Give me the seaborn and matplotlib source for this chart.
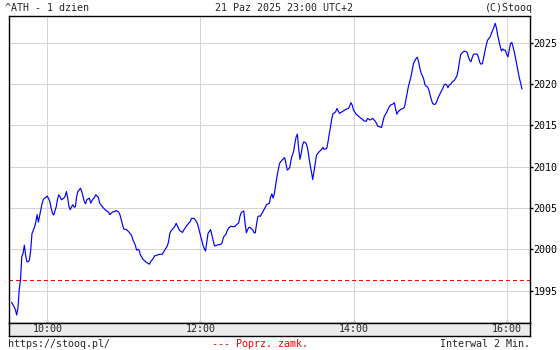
import matplotlib
matplotlib.use("Agg")
import matplotlib.pyplot as plt
import matplotlib.dates as mdates
import numpy as np
import pandas as pd
import seaborn as sns

# ---- data ----
session_date = "2025-12-21"
# minutes after 09:00
minutes = [32, 34, 35, 36, 37, 38, 39, 40, 41, 42, 43, 44, 45, 46, 47, 48, 49, 50, 51, 52, 53, 55, 56, 57, 58,
           60, 62, 63, 64, 65, 67, 68, 69, 70, 71, 73, 74, 75, 76, 77, 78, 79, 80, 81, 82, 83, 84, 86, 87, 88, 89,
           90, 91, 93, 94, 95, 97, 98, 100, 101, 103, 104, 106, 108, 109, 111, 113, 114, 116, 117, 118, 119,
           120, 122, 124, 126, 127, 129, 130, 131, 132, 133, 135, 137, 138, 140, 141, 143, 144, 146, 148, 150,
           152, 154, 155, 156, 157, 158, 160, 161, 163, 164, 166, 167, 169, 171, 172, 173, 175, 177, 178, 179,
           180, 181, 182, 183, 184, 185, 186, 187, 188, 189, 190, 191, 193, 194, 196, 197, 198, 200, 201, 202,
           204, 205, 207, 208, 210, 211, 212, 214, 215, 216, 217, 218, 219, 221, 222, 223, 224, 225, 226, 227,
           229, 231, 232, 234, 235, 236, 237, 238, 239, 240, 241, 242, 243, 244, 246, 247, 248, 249, 250, 251,
           252, 253, 254, 255, 256, 257, 258, 259, 260, 261, 262, 263, 264, 265, 266, 267, 268, 269, 270, 271,
           272, 273, 275, 276, 277, 279, 280, 281, 282, 283, 284, 285, 286, 287, 288, 289, 291, 293, 294, 296,
           297, 298, 299, 300, 302, 303, 305, 307, 308, 310, 311, 313, 315, 317, 318, 319, 321, 322, 323, 324,
           326, 328, 329, 331, 332, 333, 334, 335, 337, 339, 340, 341, 342, 343, 344, 345, 346, 347, 349, 350,
           351, 352, 353, 354, 355, 356, 357, 358, 359, 360, 361, 362, 363, 364, 365, 366, 368, 370, 371, 372,
           373, 374, 375, 376, 377, 379, 380, 381, 382, 383, 384, 386, 387, 389, 390, 391, 392, 393, 394, 396,
           397, 398, 399, 400, 401, 402, 403, 404, 405, 406, 407, 408, 409, 410, 411, 412, 413, 414, 415, 416,
           417, 418, 419, 420, 421, 422, 423, 424, 425, 426, 427, 428, 429, 430, 431, 432]
values = [1993.6, 1993.05, 1992.7, 1992.05, 1992.9, 1995.1, 1996.3, 1999.1, 1999.5, 2000.5, 1999.3, 1998.5,
          1998.5, 1998.7, 1999.9, 2001.9, 2002.3, 2002.7, 2003.3, 2004.2, 2003.3, 2004.8, 2005.6, 2006.05, 2006.2,
          2006.45, 2005.8, 2005.0, 2004.4, 2004.15, 2005.15, 2006.05, 2006.6, 2006.4, 2006.0, 2006.2, 2006.45,
          2007.0, 2006.2, 2005.15, 2004.8, 2005.15, 2005.4, 2005.1, 2005.15, 2006.4, 2007.0, 2007.4, 2007.0,
          2006.4, 2005.8, 2005.5, 2006.0, 2006.2, 2005.6, 2005.9, 2006.3, 2006.6, 2006.3, 2005.6, 2005.2, 2005.0,
          2004.7, 2004.5, 2004.2, 2004.5, 2004.6, 2004.7, 2004.5, 2004.15, 2003.55, 2002.95,
          2002.45, 2002.4, 2002.1, 2001.7, 2001.2, 2000.5, 1999.9, 2000.0, 1999.9, 1999.3, 1998.8, 1998.5, 1998.4,
          1998.2, 1998.5, 1998.9, 1999.2, 1999.3, 1999.4, 1999.4,
          1999.9, 2000.4, 2000.9, 2001.9, 2002.25, 2002.4, 2002.8, 2003.15, 2002.5, 2002.25, 2002.05, 2002.35,
          2002.8, 2003.2, 2003.35, 2003.75, 2003.75, 2003.35, 2002.95, 2002.35,
          2001.75, 2001.15, 2000.5, 2000.1, 1999.8, 2000.9, 2001.95, 2002.15, 2002.4, 2001.75, 2001.15, 2000.4,
          2000.5, 2000.55, 2000.6, 2000.8, 2001.45, 2001.85, 2002.25, 2002.55,
          2002.8, 2002.75, 2002.75, 2002.95, 2003.2, 2004.0, 2004.45, 2004.65, 2003.15, 2002.0, 2002.4, 2002.65,
          2002.65, 2002.35, 2002.0, 2002.0, 2003.05, 2003.95, 2004.05, 2004.0,
          2004.55, 2005.15, 2005.45, 2005.55, 2006.35, 2006.7, 2006.2, 2006.8, 2007.8, 2008.8, 2009.6, 2010.4,
          2010.6, 2010.8, 2011.1, 2010.4, 2009.6, 2009.7, 2009.9, 2010.8,
          2011.4, 2011.8, 2012.8, 2013.6, 2013.95, 2012.2, 2010.9, 2011.6, 2012.6, 2013.0, 2012.95, 2012.75,
          2012.2, 2011.2, 2010.2, 2009.4, 2008.45, 2009.4, 2010.4, 2011.4,
          2011.6, 2011.8, 2012.1, 2012.35, 2012.1, 2012.2, 2013.0, 2014.0, 2014.85, 2015.85, 2016.45, 2016.5,
          2016.65, 2017.05, 2016.75, 2016.45, 2016.65, 2016.85, 2016.95, 2017.05,
          2017.35, 2017.75, 2017.45, 2016.85, 2016.35, 2016.25, 2015.95, 2015.75, 2015.55, 2015.5, 2015.85,
          2015.65, 2015.85, 2015.5, 2015.25, 2014.9, 2014.8, 2014.75, 2015.45, 2016.05,
          2016.6, 2017.25, 2017.45, 2017.6, 2017.75, 2016.95, 2016.35, 2016.65, 2016.95, 2017.05, 2017.25, 2018.05,
          2018.9, 2019.7, 2020.3, 2020.9, 2021.7, 2022.5, 2023.1, 2023.25,
          2022.7, 2021.9, 2021.3, 2021.0, 2020.6, 2019.9, 2019.75, 2019.65, 2019.3, 2018.7, 2018.1, 2017.65,
          2017.55, 2017.55, 2017.8, 2018.25, 2018.9, 2019.5, 2019.9, 2020.0,
          2019.9, 2019.55, 2019.9, 2019.95, 2020.2, 2020.45, 2020.7, 2021.0, 2021.7, 2022.7, 2023.6, 2023.9,
          2024.0, 2023.85, 2023.3, 2022.9, 2022.7, 2023.2, 2023.6, 2023.65,
          2023.6, 2023.2, 2022.6, 2022.4, 2022.5, 2023.2, 2024.0, 2024.7, 2025.3, 2025.5, 2025.7, 2026.1, 2026.5,
          2026.9, 2027.35, 2026.8, 2025.9, 2025.2, 2024.5, 2024.0,
          2024.25, 2024.1, 2024.1, 2023.6, 2023.3, 2024.1, 2024.9, 2025.05, 2024.5, 2023.9, 2023.1, 2022.3,
          2021.5, 2020.7, 2020.1, 2019.4]
prev_close = 1996.3
y_ticks = [1995, 2000, 2005, 2010, 2015, 2020, 2025]
major_hours = ["10:00", "12:00", "14:00", "16:00"]
minor_hours = ["11:00", "13:00", "15:00"]
x_range = ["09:29:36", "16:18:18"]
y_range = [1991.05, 2028.3]

title_left = "^ATH - 1 dzien"
title_mid = "21 Paz 2025 23:00 UTC+2"
title_right = "(C)Stooq"
foot_left = "https://stooq.pl/"
foot_mid = "--- Poprz. zamk."
foot_right = "Interwal 2 Min."

# ---- build ----
base = pd.Timestamp(f"{session_date} 09:00")
df = pd.DataFrame({"time": base + pd.to_timedelta(minutes, unit="min"), "value": values})

def ts(s):
    return mdates.date2num(pd.Timestamp(f"{session_date} {s}"))

sns.set_style("white")
plt.rcParams["font.family"] = ["DejaVu Sans Mono"]
FS = 7.2
PX = 0.72  # one pixel in points at dpi 100

W, H = 560, 350
fig = plt.figure(figsize=(W / 100, H / 100), dpi=100)
fig.patch.set_facecolor("white")

L, R, T, B, SB = 8.5, 530.0, 15.5, 323.3, 335.7
ax = fig.add_axes([L / W, 1 - B / H, (R - L) / W, (B - T) / H])
ax2 = fig.add_axes([L / W, 1 - SB / H, (R - L) / W, (SB - B) / H], sharex=ax)

for a in (ax, ax2):
    for s in a.spines.values():
        s.set_color("black")
        s.set_linewidth(1.0)

# grid
for yv in y_ticks:
    ax.axhline(yv, color="#d4d4d4", lw=PX, zorder=1, antialiased=False)
for h in major_hours:
    ax.axvline(ts(h), color="#d4d4d4", lw=PX, zorder=1, antialiased=False)

ax.axhline(prev_close, color="#ff0000", lw=PX, linestyle=(0, (3, 3)), zorder=2, antialiased=False)

sns.lineplot(data=df, x="time", y="value", ax=ax, color="#0000ff", lw=0.85,
             estimator=None, sort=False, zorder=3)

ax.set_xlim(ts(x_range[0]), ts(x_range[1]))
ax.set_ylim(*y_range)
ax.set_xlabel("")
ax.set_ylabel("")

ax.yaxis.tick_right()
ax.set_yticks(y_ticks)
ax.set_yticklabels([str(v) for v in y_ticks], fontsize=FS)
ax.tick_params(axis="y", which="major", direction="out", length=3 * PX, width=1.0, pad=0.5,
               left=False, right=True, colors="black")

ax.set_xticks([ts(h) for h in major_hours])
ax.set_xticks([ts(h) for h in minor_hours], minor=True)
ax.tick_params(axis="x", which="major", direction="in", length=3 * PX, width=1.0,
               bottom=True, top=False, labelbottom=False)
ax.tick_params(axis="x", which="minor", direction="in", length=3 * PX, width=1.0,
               bottom=True, top=True, labelbottom=False)

ax2.set_facecolor("#ebebeb")
ax2.set_yticks([])
ax2.set_xticks([ts(h) for h in major_hours])
ax2.set_xticks([], minor=True)
ax2.set_xticklabels(major_hours, fontsize=FS)
ax2.tick_params(axis="x", which="major", length=0, pad=-(SB - B) / 2 * PX)
for lbl in ax2.get_xticklabels():
    lbl.set_va("center")
ax2.set_xlim(ts(x_range[0]), ts(x_range[1]))

# header / footer text
fig.text(5 / W, 1 - 8 / H, title_left, ha="left", va="center", fontsize=FS)
fig.text(284 / W, 1 - 8 / H, title_mid, ha="center", va="center", fontsize=FS)
fig.text(533 / W, 1 - 8 / H, title_right, ha="right", va="center", fontsize=FS)
fig.text(8 / W, 1 - 344 / H, foot_left, ha="left", va="center", fontsize=FS)
fig.text(211.5 / W, 1 - 344 / H, foot_mid, ha="left", va="center", fontsize=FS, color="#ff0000")
fig.text(530 / W, 1 - 344 / H, foot_right, ha="right", va="center", fontsize=FS)

fig.savefig("out.png", dpi=100, facecolor="white")
